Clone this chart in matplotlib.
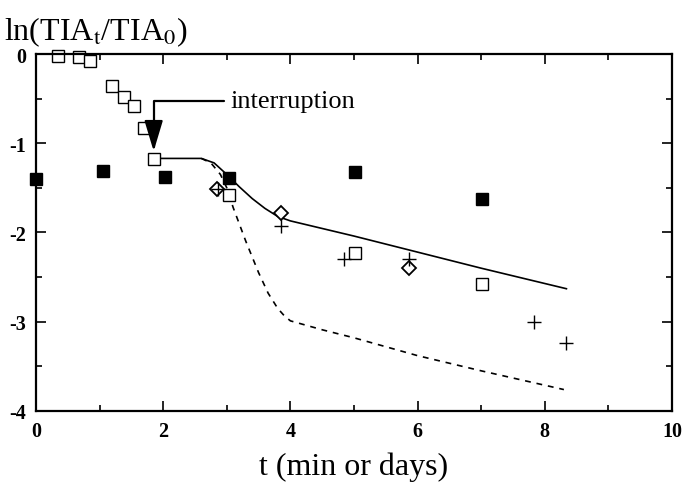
import numpy as np
import matplotlib.pyplot as plt

plt.rcParams['font.family'] = ['Liberation Serif', 'DejaVu Serif']
plt.rcParams['mathtext.fontset'] = 'stix'

# open squares
sq_t = [0.35, 0.68, 0.85, 1.19, 1.38, 1.54, 1.70, 1.85, 3.03, 5.02, 7.02]
sq_y = [-0.02, -0.03, -0.08, -0.36, -0.48, -0.58, -0.83, -1.18, -1.58, -2.23, -2.58]

# filled squares
fsq_t = [0.0, 1.05, 2.03, 3.03, 5.02, 7.02]
fsq_y = [-1.40, -1.31, -1.38, -1.39, -1.32, -1.62]

# diamonds
dia_t = [2.84, 3.85, 5.86]
dia_y = [-1.51, -1.78, -2.40]

# crosses
plus_t = [2.86, 3.85, 4.84, 5.86, 7.83, 8.34]
plus_y = [-1.51, -1.93, -2.30, -2.30, -3.00, -3.24]

# model curves
sol_t = [1.85, 2.3, 2.6, 2.8, 3.0, 3.2, 3.4, 3.6, 3.8, 4.0, 5.0, 6.0, 7.0, 8.34]
sol_y = [-1.17, -1.17, -1.17, -1.22, -1.35, -1.49, -1.62, -1.73, -1.82, -1.87, -2.04, -2.22, -2.40, -2.63]
dash_t = [2.6, 2.75, 2.9, 3.0, 3.1, 3.3, 3.5, 3.65, 3.8, 3.9, 4.0, 4.5, 5.0, 6.0, 7.0, 8.3]
dash_y = [-1.17, -1.22, -1.35, -1.50, -1.72, -2.10, -2.45, -2.68, -2.85, -2.93, -2.99, -3.09, -3.18, -3.38, -3.55, -3.76]

fig = plt.figure(figsize=(6.83, 4.89), dpi=100)
ax = fig.add_axes([0.0527, 0.1575, 0.9312, 0.7300])

ax.plot(sol_t, sol_y, 'k-', lw=1.2)
ax.plot(dash_t, dash_y, 'k--', lw=1.2, dashes=(3.5, 3.5))
ax.plot(sq_t, sq_y, 'ks', markersize=9, markerfacecolor='white', markeredgewidth=1.0, linestyle='none', clip_on=False)
ax.plot(fsq_t, fsq_y, 'ks', markersize=9, linestyle='none', clip_on=False)
ax.plot(dia_t, dia_y, 'kD', markersize=7, markerfacecolor='white', markeredgewidth=1.3, linestyle='none')
ax.plot(plus_t, plus_y, 'k+', markersize=10, markeredgewidth=1.0, linestyle='none')

ax.annotate('interruption', xy=(1.85, -1.09), xytext=(3.06, -0.53),
            fontsize=19, va='center', ha='left',
            arrowprops=dict(arrowstyle='-|>,head_length=1.0,head_width=0.3', color='k', lw=1.6,
                            connectionstyle='angle,angleA=0,angleB=90,rad=0',
                            shrinkA=3, shrinkB=0))

ax.set_xlim(0, 10)
ax.set_ylim(-4, 0)
ax.set_xticks([0, 2, 4, 6, 8, 10])
ax.set_xticks([1, 3, 5, 7, 9], minor=True)
ax.set_yticks([0, -1, -2, -3, -4])
ax.set_yticklabels(['0', '-1', '-2', '-3', '-4'])
ax.set_yticks([-0.5, -1.5, -2.5, -3.5], minor=True)
ax.tick_params(which='both', direction='in', top=True, right=True, width=1.2, labelsize=14.5)
ax.tick_params(which='major', length=7, pad=7)
ax.tick_params(which='minor', length=4)
for lab in ax.get_xticklabels() + ax.get_yticklabels():
    lab.set_fontweight('bold')
for s in ax.spines.values():
    s.set_linewidth(1.6)

fig.text(0.006, 0.968, r'ln(TIA$_\mathrm{t}$/TIA$_\mathrm{0}$)', fontsize=23, va='top', ha='left')
ax.set_xlabel('t (min or days)', fontsize=23, labelpad=8)

plt.savefig('out.png', dpi=100)
